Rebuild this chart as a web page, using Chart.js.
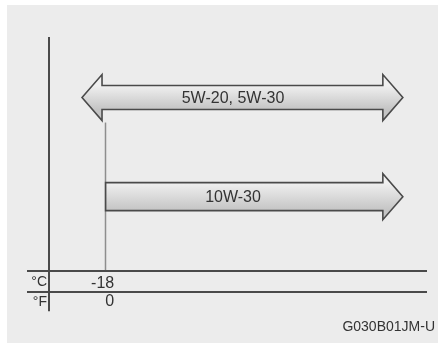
<!DOCTYPE html>
<html>
<head>
<meta charset="utf-8">
<script src="https://cdn.jsdelivr.net/npm/chart.js@4.4.1/dist/chart.umd.min.js"></script>
<style>
  html, body { margin: 0; padding: 0; background: #fff; }
  #wrap { width: 438px; height: 343px; }
</style>
</head>
<body>
<div id="wrap"><canvas id="oilChart" width="438" height="343"></canvas></div>
<script>
// Oil grades and the temperature range (°C) each one is good for
const grades = ['5W-20, 5W-30', '10W-30'];
const rangeFrom = [-23, -18];
const rangeTo = [45, 45];
const openBelow = [true, false]; // arrow head on the cold end as well
// tick labels of the two temperature rows
const celsiusTicks = [-18];
const fahrenheitTicks = [0];
const unitNames = ['°C', '°F'];
const figureCode = 'G030B01JM-U';

const FONT = '"Liberation Sans", Arial, sans-serif';
const TEXT = '#333333';
const LINE = '#4a4a4a';

const cMin = -30, cMax = 48;
const toF = c => c * 9 / 5 + 32;

// one dataset per grade so every arrow gets its own shaft width
const datasets = grades.map((g, i) => ({
  label: g,
  data: grades.map((_, j) => j === i ? [rangeFrom[i], rangeTo[i]] : null),
  barThickness: i === 0 ? 24 : 28,
  backgroundColor: 'rgba(0,0,0,0)',
  borderWidth: 0
}));

// grey panel, table lines, unit names and the -18 marker
const framePlugin = {
  id: 'frame',
  beforeDraw(chart) {
    const ctx = chart.ctx;
    ctx.save();
    ctx.fillStyle = '#ececec';
    ctx.fillRect(7, 5, chart.width - 7, chart.height - 5);
    ctx.restore();
  },
  beforeDatasetsDraw(chart) {
    const { ctx, chartArea: area } = chart;
    const xs = chart.scales.x, fs = chart.scales.f;
    const rowTop = Math.round(xs.bottom - 21);
    const rowMid = Math.round(fs.top);
    const first = chart.getDatasetMeta(0).data[0];
    ctx.save();
    // marker line from under the top arrow down to the table
    ctx.strokeStyle = '#8e8e8e';
    ctx.lineWidth = 1.5;
    celsiusTicks.forEach(v => {
      const px = Math.round(xs.getPixelForValue(v)) - 0.5;
      ctx.beginPath();
      ctx.moveTo(px, first.y + 25);
      ctx.lineTo(px, rowTop);
      ctx.stroke();
    });
    // table lines
    ctx.strokeStyle = LINE;
    ctx.lineWidth = 2;
    [rowTop, rowMid].forEach(y => {
      ctx.beginPath();
      ctx.moveTo(area.left - 22, y);
      ctx.lineTo(area.right + 10, y);
      ctx.stroke();
    });
    ctx.beginPath();
    ctx.moveTo(Math.round(area.left), area.top - 11);
    ctx.lineTo(Math.round(area.left), fs.bottom);
    ctx.stroke();
    // °C / °F
    ctx.fillStyle = TEXT;
    ctx.font = '14px ' + FONT;
    ctx.textAlign = 'right';
    ctx.textBaseline = 'middle';
    ctx.fillText(unitNames[0], area.left - 2, (rowTop + rowMid) / 2 + 1);
    ctx.fillText(unitNames[1], area.left - 2, (rowMid + fs.bottom) / 2 + 1);
    ctx.restore();
  }
};

// draws each range bar as an arrow with its grade written inside
const arrowPlugin = {
  id: 'arrows',
  afterDatasetsDraw(chart) {
    const { ctx, chartArea: area } = chart;
    const head = 20, wing = 23;
    chart.data.datasets.forEach((ds, di) => {
      chart.getDatasetMeta(di).data.forEach((bar, i) => {
        if (ds.data[i] == null) return;
        const p = bar.getProps(['x', 'y', 'base', 'height'], true);
        const left = Math.min(p.x, p.base), right = Math.max(p.x, p.base);
        const y = p.y, half = p.height / 2;
        ctx.save();
        ctx.beginPath();
        if (openBelow[i]) {
          ctx.moveTo(left, y);
          ctx.lineTo(left + head, y - wing);
          ctx.lineTo(left + head, y - half);
        } else {
          ctx.moveTo(left, y - half);
        }
        ctx.lineTo(right - head, y - half);
        ctx.lineTo(right - head, y - wing);
        ctx.lineTo(right, y);
        ctx.lineTo(right - head, y + wing);
        ctx.lineTo(right - head, y + half);
        if (openBelow[i]) {
          ctx.lineTo(left + head, y + half);
          ctx.lineTo(left + head, y + wing);
        } else {
          ctx.lineTo(left, y + half);
        }
        ctx.closePath();
        const grad = ctx.createLinearGradient(0, y - half, 0, y + half);
        grad.addColorStop(0, '#f0f0f0');
        grad.addColorStop(1, '#c4c4c4');
        ctx.fillStyle = grad;
        ctx.fill();
        ctx.strokeStyle = LINE;
        ctx.lineWidth = 1.6;
        ctx.lineJoin = 'miter';
        ctx.stroke();
        ctx.fillStyle = TEXT;
        ctx.font = '16px ' + FONT;
        ctx.textAlign = 'center';
        ctx.textBaseline = 'middle';
        ctx.fillText(chart.data.labels[i], (area.left + area.right) / 2, y + 1);
        ctx.restore();
      });
    });
  }
};

new Chart(document.getElementById('oilChart'), {
  type: 'bar',
  data: { labels: grades, datasets: datasets },
  options: {
    indexAxis: 'y',
    responsive: false,
    animation: false,
    devicePixelRatio: 1,
    grouped: false,
    layout: { padding: { left: 49, right: 3, top: 48, bottom: 7 } },
    scales: {
      y: { type: 'category', display: false },
      r: {
        type: 'linear', position: 'right', display: true,
        grid: { display: false, drawTicks: false }, border: { display: false }, ticks: { display: false },
        afterFit: s => { s.width = 18; }
      },
      x: {
        type: 'linear', position: 'bottom', weight: 0,
        min: cMin, max: cMax,
        grid: { display: false, drawTicks: false }, border: { display: false },
        afterBuildTicks: s => { s.ticks = celsiusTicks.map(v => ({ value: v })); },
        ticks: { padding: 28, labelOffset: -3, color: TEXT, font: { family: FONT, size: 16 } },
        afterFit: s => { s.height = 46; }
      },
      f: {
        type: 'linear', position: 'bottom', weight: 1,
        min: toF(cMin), max: toF(cMax),
        grid: { display: false, drawTicks: false }, border: { display: false },
        afterBuildTicks: s => { s.ticks = fahrenheitTicks.map(v => ({ value: v })); },
        ticks: { padding: 0, labelOffset: 3, color: TEXT, font: { family: FONT, size: 16 } },
        afterFit: s => { s.height = 19; }
      }
    },
    plugins: {
      legend: { display: false },
      tooltip: { enabled: false },
      title: {
        display: true, text: figureCode, position: 'bottom', align: 'end',
        color: TEXT, font: { family: FONT, size: 14, weight: 'normal' },
        padding: { top: 8, bottom: 0 }
      }
    }
  },
  plugins: [framePlugin, arrowPlugin]
});
</script>
</body>
</html>
